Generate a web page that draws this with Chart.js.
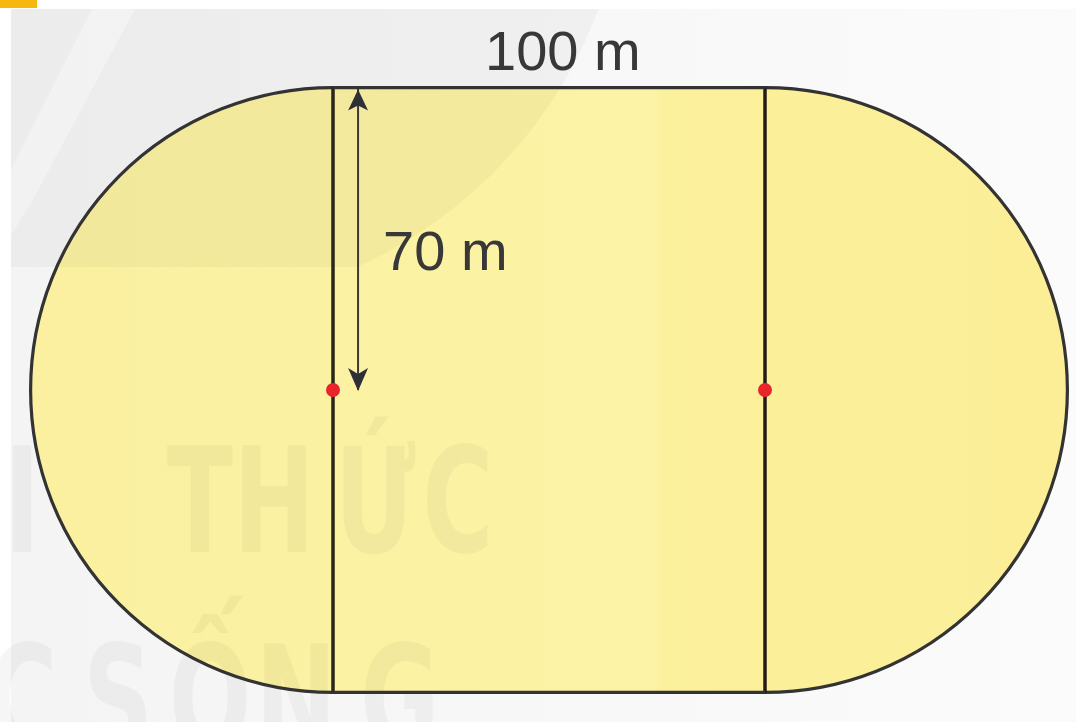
<!DOCTYPE html>
<html>
<head>
<meta charset="utf-8">
<script src="https://cdn.jsdelivr.net/npm/chart.js@4.4.1/dist/chart.umd.min.js"></script>
<style>
  html, body { margin: 0; padding: 0; background: #fff; }
  #wrap { width: 1076px; height: 722px; }
</style>
</head>
<body>
<div id="wrap"><canvas id="track" width="1076" height="722"></canvas></div>
<script>
// track dimensions in metres
const straightLength = 100;
const radius = 70;
const centres = [0, straightLength];      // centres of the two half circles
const dimOffset = 5.8;                     // the 70 m arrow sits just right of the left line
const labels = ['100 m', '70 m'];
const wmTop = ['I', 'T', 'H', 'Ứ', 'C'];
const wmBottom = ['C', 'S', 'Ố', 'N', 'G'];

const edges = [
  [{ x: centres[0], y: radius }, { x: centres[1], y: radius }],
  [{ x: centres[0], y: -radius }, { x: centres[1], y: -radius }],
  [{ x: centres[0], y: -radius }, { x: centres[0], y: radius }],
  [{ x: centres[1], y: -radius }, { x: centres[1], y: radius }]
];
const arrow = [{ x: dimOffset, y: radius }, { x: dimOffset, y: 0 }];
const dots = centres.map(c => ({ x: c, y: 0 }));

const trackPlugin = {
  id: 'track',
  beforeDraw(chart) {
    const c = chart.ctx;
    c.save();
    c.fillStyle = '#ffffff';
    c.fillRect(0, 0, chart.width, chart.height);
    const g = c.createLinearGradient(11, 0, chart.width, 0);
    g.addColorStop(0, '#f4f4f4');
    g.addColorStop(1, '#fbfbfb');
    c.fillStyle = g;
    c.fillRect(11, 9, chart.width - 11, chart.height - 9);
    c.fillStyle = '#f6b80e';
    c.fillRect(0, 0, 37, 8);
    c.restore();
  },
  beforeDatasetsDraw(chart) {
    const c = chart.ctx;
    const xs = chart.scales.x, ys = chart.scales.y;
    const x0 = xs.getPixelForValue(centres[0]);
    const x1 = xs.getPixelForValue(centres[1]);
    const cy = ys.getPixelForValue(0);
    const r = ys.getPixelForValue(0) - ys.getPixelForValue(radius);

    c.save();
    c.beginPath();
    c.arc(x0, cy, r, Math.PI / 2, Math.PI * 1.5);
    c.lineTo(x1, cy - r);
    c.arc(x1, cy, r, -Math.PI / 2, Math.PI / 2);
    c.closePath();
    const g = c.createLinearGradient(x0 - r, 0, x1 + r, 0);
    g.addColorStop(0, '#faf0a0');
    g.addColorStop(0.6, '#fcf3a6');
    g.addColorStop(0.61, '#fbf09c');
    g.addColorStop(1, '#fbee97');
    c.fillStyle = g;
    c.fill();
    c.restore();

    // faint watermark: logo arc, streak, letters
    c.save();
    c.beginPath();
    c.rect(11, 9, chart.width, 258);
    c.clip();
    c.beginPath();
    c.arc(170, -150, 457, 0, Math.PI * 2);
    c.fillStyle = 'rgba(0,0,0,0.032)';
    c.fill();
    c.beginPath();
    c.moveTo(92, 9); c.lineTo(135, 9); c.lineTo(30, 205); c.lineTo(11, 235); c.lineTo(11, 170);
    c.closePath();
    c.fillStyle = 'rgba(255,255,255,0.35)';
    c.fill();
    c.restore();

    c.save();
    c.fillStyle = 'rgba(0,0,0,0.035)';
    c.font = 'bold 146px "DejaVu Sans Condensed"';
    c.textAlign = 'center';
    c.textBaseline = 'alphabetic';
    const topX = [22, 200, 274, 375, 458];
    const botX = [22, 118, 210, 296, 400];
    wmTop.forEach((ch, i) => {
      c.save(); c.translate(topX[i], 552); c.scale(0.74, 1); c.fillText(ch, 0, 0); c.restore();
    });
    wmBottom.forEach((ch, i) => {
      c.save(); c.translate(botX[i], 750); c.scale(0.74, 1); c.fillText(ch, 0, 0); c.restore();
    });
    c.restore();

    // curved ends of the track
    c.save();
    c.strokeStyle = '#333333';
    c.lineWidth = 3.2;
    c.beginPath();
    c.arc(x0, cy, r, Math.PI / 2, Math.PI * 1.5);
    c.stroke();
    c.beginPath();
    c.arc(x1, cy, r, -Math.PI / 2, Math.PI / 2);
    c.stroke();
    c.restore();
  },
  afterDatasetsDraw(chart) {
    const c = chart.ctx;
    const xs = chart.scales.x, ys = chart.scales.y;
    const ax = xs.getPixelForValue(arrow[0].x);
    const aTop = ys.getPixelForValue(arrow[0].y) + 2;
    const aBot = ys.getPixelForValue(arrow[1].y) + 1;
    c.save();
    c.fillStyle = '#2e3038';
    c.beginPath();
    c.moveTo(ax, aTop); c.lineTo(ax + 10, aTop + 21); c.lineTo(ax, aTop + 16); c.lineTo(ax - 10, aTop + 21);
    c.closePath(); c.fill();
    c.beginPath();
    c.moveTo(ax, aBot); c.lineTo(ax + 10, aBot - 23); c.lineTo(ax, aBot - 17); c.lineTo(ax - 10, aBot - 23);
    c.closePath(); c.fill();

    c.fillStyle = '#383838';
    c.font = '56px "Liberation Sans", Arial, sans-serif';
    c.textBaseline = 'alphabetic';
    c.textAlign = 'center';
    c.fillText(labels[0], xs.getPixelForValue(53.2), ys.getPixelForValue(74.1));
    c.textAlign = 'left';
    c.fillText(labels[1], xs.getPixelForValue(11.6), ys.getPixelForValue(27.8));
    c.restore();
  }
};

const lineStyle = (data, color, width) => ({
  type: 'line', data, borderColor: color, borderWidth: width,
  pointRadius: 0, fill: false, tension: 0, borderCapStyle: 'butt', order: 2
});

const config = {
  type: 'scatter',
  data: {
    datasets: [
      { type: 'scatter', data: dots, backgroundColor: '#e8252b', borderWidth: 0, pointRadius: 7, order: 0 },
      lineStyle(edges[0], '#333333', 3.2),
      lineStyle(edges[1], '#333333', 3.2),
      lineStyle(edges[2], '#2b2619', 3.5),
      lineStyle(edges[3], '#231e14', 3.5),
      lineStyle(arrow, '#3a3a3a', 2)
    ]
  },
  options: {
    responsive: false,
    animation: false,
    devicePixelRatio: 1,
    layout: { padding: 0, autoPadding: false },
    plugins: { legend: { display: false }, tooltip: { enabled: false } },
    events: [],
    scales: {
      x: { type: 'linear', display: false, min: -333 / 4.32, max: (1076 - 333) / 4.32 },
      y: { type: 'linear', display: false, min: -(722 - 390) / 4.32, max: 390 / 4.32 }
    }
  },
  plugins: [trackPlugin]
};

const ctx = document.getElementById('track');
const trackChart = new Chart(ctx, config);
</script>
</body>
</html>
